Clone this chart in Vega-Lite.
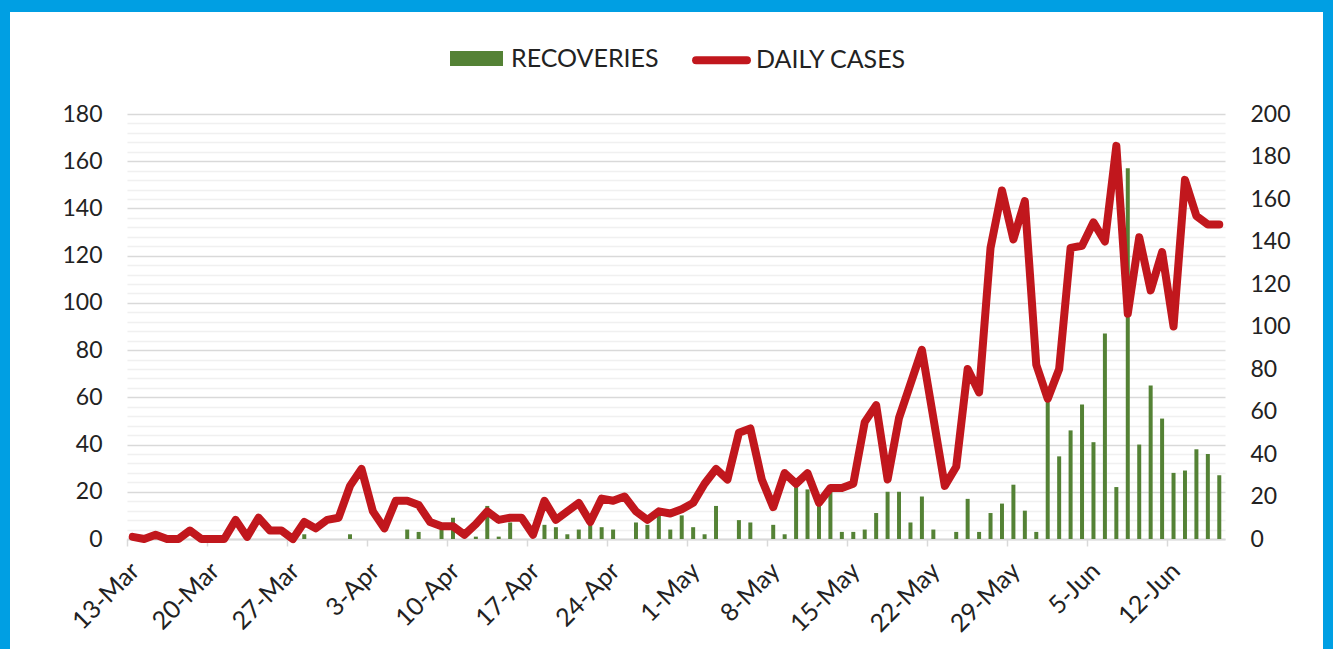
{
  "$schema": "https://vega.github.io/schema/vega-lite/v6.json",
  "background": "white",
  "padding": 0,
  "columns": 5,
  "spacing": 0,
  "bounds": "flush",
  "align": "each",
  "config": {"view": {"stroke": null}, "font": "Lato"},
  "concat": [
    {"width": 10, "height": 12, "view": {"fill": "#009FE3"}, "data": {"values": [{}]}, "mark": {"type": "point", "opacity": 0}},
    {"width": 117, "height": 12, "view": {"fill": "#009FE3"}, "data": {"values": [{}]}, "mark": {"type": "point", "opacity": 0}},
    {"width": 1098, "height": 12, "view": {"fill": "#009FE3"}, "data": {"values": [{}]}, "mark": {"type": "point", "opacity": 0}},
    {"width": 98, "height": 12, "view": {"fill": "#009FE3"}, "data": {"values": [{}]}, "mark": {"type": "point", "opacity": 0}},
    {"width": 10, "height": 12, "view": {"fill": "#009FE3"}, "data": {"values": [{}]}, "mark": {"type": "point", "opacity": 0}},

    {"width": 10, "height": 102, "view": {"fill": "#009FE3"}, "data": {"values": [{}]}, "mark": {"type": "point", "opacity": 0}},
    {"width": 117, "height": 102, "data": {"values": [{}]}, "mark": {"type": "point", "opacity": 0}},
    {"width": 1098, "height": 102, "data": {"values": [{}]}, "mark": {"type": "point", "opacity": 0}},
    {"width": 98, "height": 102, "data": {"values": [{}]}, "mark": {"type": "point", "opacity": 0}},
    {"width": 10, "height": 102, "view": {"fill": "#009FE3"}, "data": {"values": [{}]}, "mark": {"type": "point", "opacity": 0}},

    {"width": 10, "height": 535, "view": {"fill": "#009FE3"}, "data": {"values": [{}]}, "mark": {"type": "point", "opacity": 0}},
    {"width": 117, "height": 535, "data": {"values": [{}]}, "mark": {"type": "point", "opacity": 0}},
    {
      "width": 1098,
      "height": 425,
      "data": {"values": [
        {"date": "13-Mar", "recoveries": 0, "cases": 1},
        {"date": "14-Mar", "recoveries": 0, "cases": 0},
        {"date": "15-Mar", "recoveries": 0, "cases": 2},
        {"date": "16-Mar", "recoveries": 0, "cases": 0},
        {"date": "17-Mar", "recoveries": 0, "cases": 0},
        {"date": "18-Mar", "recoveries": 0, "cases": 4},
        {"date": "19-Mar", "recoveries": 0, "cases": 0},
        {"date": "20-Mar", "recoveries": 0, "cases": 0},
        {"date": "21-Mar", "recoveries": 0, "cases": 0},
        {"date": "22-Mar", "recoveries": 0, "cases": 9},
        {"date": "23-Mar", "recoveries": 0, "cases": 1},
        {"date": "24-Mar", "recoveries": 0, "cases": 10},
        {"date": "25-Mar", "recoveries": 0, "cases": 4},
        {"date": "26-Mar", "recoveries": 0, "cases": 4},
        {"date": "27-Mar", "recoveries": 0, "cases": 0},
        {"date": "28-Mar", "recoveries": 2, "cases": 8},
        {"date": "29-Mar", "recoveries": 0, "cases": 5},
        {"date": "30-Mar", "recoveries": 0, "cases": 9},
        {"date": "31-Mar", "recoveries": 0, "cases": 10},
        {"date": "1-Apr", "recoveries": 2, "cases": 25},
        {"date": "2-Apr", "recoveries": 0, "cases": 33},
        {"date": "3-Apr", "recoveries": 0, "cases": 13},
        {"date": "4-Apr", "recoveries": 0, "cases": 5},
        {"date": "5-Apr", "recoveries": 0, "cases": 18},
        {"date": "6-Apr", "recoveries": 4, "cases": 18},
        {"date": "7-Apr", "recoveries": 3, "cases": 16},
        {"date": "8-Apr", "recoveries": 0, "cases": 8},
        {"date": "9-Apr", "recoveries": 4, "cases": 6},
        {"date": "10-Apr", "recoveries": 9, "cases": 6},
        {"date": "11-Apr", "recoveries": 0, "cases": 2},
        {"date": "12-Apr", "recoveries": 1, "cases": 7},
        {"date": "13-Apr", "recoveries": 14, "cases": 13},
        {"date": "14-Apr", "recoveries": 1, "cases": 9},
        {"date": "15-Apr", "recoveries": 7, "cases": 10},
        {"date": "16-Apr", "recoveries": 0, "cases": 10},
        {"date": "17-Apr", "recoveries": 0, "cases": 2},
        {"date": "18-Apr", "recoveries": 6, "cases": 18},
        {"date": "19-Apr", "recoveries": 5, "cases": 9},
        {"date": "20-Apr", "recoveries": 2, "cases": 13},
        {"date": "21-Apr", "recoveries": 4, "cases": 17},
        {"date": "22-Apr", "recoveries": 6, "cases": 8},
        {"date": "23-Apr", "recoveries": 5, "cases": 19},
        {"date": "24-Apr", "recoveries": 4, "cases": 18},
        {"date": "25-Apr", "recoveries": 0, "cases": 20},
        {"date": "26-Apr", "recoveries": 7, "cases": 13},
        {"date": "27-Apr", "recoveries": 6, "cases": 9},
        {"date": "28-Apr", "recoveries": 10, "cases": 13},
        {"date": "29-Apr", "recoveries": 4, "cases": 12},
        {"date": "30-Apr", "recoveries": 10, "cases": 14},
        {"date": "1-May", "recoveries": 5, "cases": 17},
        {"date": "2-May", "recoveries": 2, "cases": 26},
        {"date": "3-May", "recoveries": 14, "cases": 33},
        {"date": "4-May", "recoveries": 0, "cases": 28},
        {"date": "5-May", "recoveries": 8, "cases": 50},
        {"date": "6-May", "recoveries": 7, "cases": 52},
        {"date": "7-May", "recoveries": 0, "cases": 28},
        {"date": "8-May", "recoveries": 6, "cases": 15},
        {"date": "9-May", "recoveries": 2, "cases": 31},
        {"date": "10-May", "recoveries": 22, "cases": 26},
        {"date": "11-May", "recoveries": 21, "cases": 31},
        {"date": "12-May", "recoveries": 15, "cases": 17},
        {"date": "13-May", "recoveries": 20, "cases": 24},
        {"date": "14-May", "recoveries": 3, "cases": 24},
        {"date": "15-May", "recoveries": 3, "cases": 26},
        {"date": "16-May", "recoveries": 4, "cases": 55},
        {"date": "17-May", "recoveries": 11, "cases": 63},
        {"date": "18-May", "recoveries": 20, "cases": 28},
        {"date": "19-May", "recoveries": 20, "cases": 57},
        {"date": "20-May", "recoveries": 7, "cases": 73},
        {"date": "21-May", "recoveries": 18, "cases": 89},
        {"date": "22-May", "recoveries": 4, "cases": 57},
        {"date": "23-May", "recoveries": 0, "cases": 25},
        {"date": "24-May", "recoveries": 3, "cases": 34},
        {"date": "25-May", "recoveries": 17, "cases": 80},
        {"date": "26-May", "recoveries": 3, "cases": 69},
        {"date": "27-May", "recoveries": 11, "cases": 137},
        {"date": "28-May", "recoveries": 15, "cases": 164},
        {"date": "29-May", "recoveries": 23, "cases": 141},
        {"date": "30-May", "recoveries": 12, "cases": 159},
        {"date": "31-May", "recoveries": 3, "cases": 82},
        {"date": "1-Jun", "recoveries": 59, "cases": 66},
        {"date": "2-Jun", "recoveries": 35, "cases": 80},
        {"date": "3-Jun", "recoveries": 46, "cases": 137},
        {"date": "4-Jun", "recoveries": 57, "cases": 138},
        {"date": "5-Jun", "recoveries": 41, "cases": 149},
        {"date": "6-Jun", "recoveries": 87, "cases": 140},
        {"date": "7-Jun", "recoveries": 22, "cases": 185},
        {"date": "8-Jun", "recoveries": 157, "cases": 106},
        {"date": "9-Jun", "recoveries": 40, "cases": 142},
        {"date": "10-Jun", "recoveries": 65, "cases": 117},
        {"date": "11-Jun", "recoveries": 51, "cases": 135},
        {"date": "12-Jun", "recoveries": 28, "cases": 100},
        {"date": "13-Jun", "recoveries": 29, "cases": 169},
        {"date": "14-Jun", "recoveries": 38, "cases": 152},
        {"date": "15-Jun", "recoveries": 36, "cases": 148},
        {"date": "16-Jun", "recoveries": 27, "cases": 148}
      ]},
      "encoding": {
        "x": {
          "field": "date", "type": "ordinal", "sort": null,
          "scale": {"paddingInner": 0, "paddingOuter": 0},
          "axis": {
            "title": null,
            "values": ["13-Mar", "20-Mar", "27-Mar", "3-Apr", "10-Apr", "17-Apr", "24-Apr", "1-May", "8-May", "15-May", "22-May", "29-May", "5-Jun", "12-Jun"],
            "bandPosition": 0,
            "labelAngle": -45,
            "labelFont": "Lato", "labelFontSize": 25, "labelColor": "#222222",
            "labelPadding": 12, "labelOffset": -6, "labelOverlap": false,
            "tickColor": "#D9D9D9", "tickSize": 7, "tickWidth": 1.5,
            "domainColor": "#D9D9D9", "domainWidth": 2,
            "grid": false
          }
        }
      },
      "layer": [
        {
          "mark": {"type": "bar", "width": 4, "color": "#548235"},
          "encoding": {
            "y": {
              "field": "recoveries", "type": "quantitative",
              "scale": {"domain": [0, 180], "nice": false},
              "axis": {
                "title": null, "orient": "left",
                "values": [0, 4, 8, 12, 16, 20, 24, 28, 32, 36, 40, 44, 48, 52, 56, 60, 64, 68, 72, 76, 80, 84, 88, 92, 96, 100, 104, 108, 112, 116, 120, 124, 128, 132, 136, 140, 144, 148, 152, 156, 160, 164, 168, 172, 176, 180],
                "labelExpr": "datum.value % 20 === 0 ? datum.label : ''",
                "labelOverlap": false,
                "labelFont": "Lato", "labelFontSize": 23, "labelColor": "#222222", "labelPadding": 25,
                "ticks": false, "domain": false,
                "grid": true,
                "gridColor": {"condition": {"test": "datum.value % 20 === 0", "value": "#D9D9D9"}, "value": "#F0F0F0"},
                "gridWidth": 1.5
              }
            },
            "color": {
              "datum": "RECOVERIES",
              "scale": {"domain": ["RECOVERIES", "DAILY CASES"], "range": ["#548235", "#C1171D"]},
              "legend": {
                "title": null,
                "orient": "none", "legendX": 446, "legendY": 28,
                "direction": "horizontal",
                "padding": 0,
                "symbolSize": 2809,
                "symbolStrokeWidth": 8,
                "labelFont": "Lato", "labelFontSize": 25, "labelColor": "#222222",
                "labelOffset": 4, "columnPadding": 21,
                "encode": {
                  "symbols": {
                    "update": {
                      "shape": {"signal": "datum.value === 'RECOVERIES' ? 'M-0.849,-0.132H0.849V0.132H-0.849Z' : 'M-0.96,0H0.96'"},
                      "fill": {"signal": "datum.value === 'RECOVERIES' ? '#548235' : 'transparent'"},
                      "stroke": {"signal": "datum.value === 'RECOVERIES' ? '#548235' : '#C1171D'"},
                      "strokeWidth": {"value": 8},
                      "strokeCap": {"value": "round"},
                      "strokeJoin": {"value": "miter"},
                      "opacity": {"value": 1}
                    }
                  }
                }
              }
            }
          }
        },
        {
          "mark": {"type": "line", "strokeWidth": 8, "strokeJoin": "round", "strokeCap": "round"},
          "encoding": {
            "y": {
              "field": "cases", "type": "quantitative",
              "scale": {"domain": [0, 200], "nice": false},
              "axis": {
                "title": null, "orient": "right",
                "values": [0, 20, 40, 60, 80, 100, 120, 140, 160, 180, 200],
                "labelFont": "Lato", "labelFontSize": 23, "labelColor": "#222222", "labelPadding": 25,
                "ticks": false, "domain": false, "grid": false
              }
            },
            "color": {"datum": "DAILY CASES", "legend": null}
          }
        }
      ],
      "resolve": {"scale": {"y": "independent"}}
    },
    {"width": 98, "height": 535, "data": {"values": [{}]}, "mark": {"type": "point", "opacity": 0}},
    {"width": 10, "height": 535, "view": {"fill": "#009FE3"}, "data": {"values": [{}]}, "mark": {"type": "point", "opacity": 0}}
  ]
}
